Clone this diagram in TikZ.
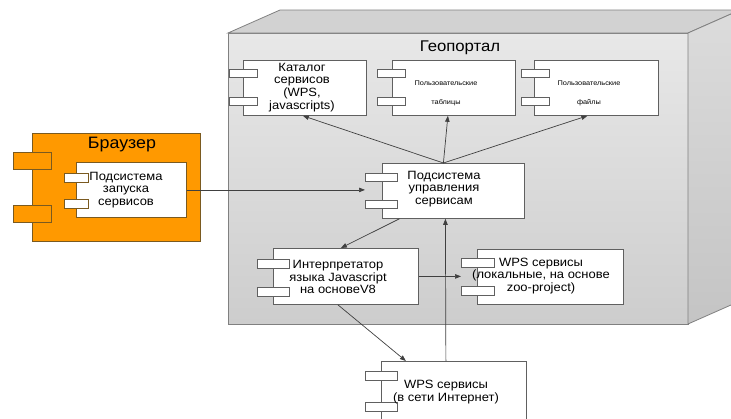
\documentclass[tikz,border=0pt]{standalone}
\usepackage{fontspec}
\setmainfont[FakeStretch=1.08]{Liberation Sans}
\usetikzlibrary{arrows.meta,calc}
\definecolor{orng}{HTML}{FF9900}
\definecolor{obrd}{HTML}{7A5A20}
\definecolor{cbrd}{HTML}{606060}
\definecolor{lnc}{HTML}{404040}
\definecolor{frontA}{HTML}{E8E8E8}
\definecolor{frontB}{HTML}{CDCDCD}
\definecolor{topc}{HTML}{D2D2D2}
\definecolor{sideA}{HTML}{DCDCDC}
\definecolor{sideB}{HTML}{C4C4C4}
\tikzset{
  comp/.style={draw=cbrd, fill=white, line width=0.8pt, inner sep=0pt, anchor=north west},
  port/.style={draw=cbrd, fill=white, line width=0.8pt, inner sep=0pt, minimum height=8.5pt, anchor=north west},
  oport/.style={draw=obrd, fill=orng, line width=0.8pt, inner sep=0pt, minimum width=38pt, minimum height=17pt, anchor=north west},
  txt/.style={align=center, inner sep=0pt, font=\fontsize{12}{12.8}\selectfont},
  tiny/.style={inner sep=0pt, font=\fontsize{6.8}{7}\selectfont},
  conn/.style={draw=lnc, line width=0.7pt, -{Triangle[length=6pt,width=4.5pt]}},
  plain/.style={draw=lnc, line width=0.7pt}
}
\begin{document}
\begin{tikzpicture}[x=1pt,y=-1pt]
\path[use as bounding box, clip] (0,0) rectangle (731,418);
% Geoportal 3D node
\shade[top color=frontA, bottom color=frontB, draw=gray, line width=0.8pt] (228,33) rectangle (688,324);
\fill[topc, draw=gray, line width=0.8pt] (228,33) -- (280,10) -- (740,10) -- (688,33) -- cycle;
\shade[top color=sideA, bottom color=sideB, draw=gray, line width=0.8pt] (688,33) -- (740,10) -- (740,301) -- (688,324) -- cycle;
\node[inner sep=0pt, font=\fontsize{15.5}{17}\selectfont] (geo) at (460,48) {Геопортал};

% Browser
\node[draw=obrd, fill=orng, line width=0.8pt, inner sep=0pt, minimum width=168pt, minimum height=108pt, anchor=north west] (br) at (32,133) {};
\node[oport] (brp1) at (13,152) {};
\node[oport] (brp2) at (13,205) {};
\node[inner sep=0pt, font=\fontsize{16.5}{18}\selectfont] (brT) at (122,145) {Браузер};
\node[comp, draw=obrd, minimum width=110pt, minimum height=55pt] (brin) at (76,162) {};
\node[port, draw=obrd, minimum width=24pt] (brinp1) at (64,173) {};
\node[port, draw=obrd, minimum width=24pt] (brinp2) at (64,199) {};
\node[txt] (brinT) at (126,190) {Подсистема\\запуска\\сервисов};

% Top components
\node[comp, minimum width=123pt, minimum height=55pt] (cat) at (243,60) {};
\node[port, minimum width=28pt] (catp1) at (229,68.5) {};
\node[port, minimum width=28pt] (catp2) at (229,96.5) {};
\node[txt] (catT) at (302,87.5) {Каталог\\сервисов\\(WPS,\\javascripts)};

\node[comp, minimum width=123pt, minimum height=55pt] (tab) at (392,60) {};
\node[port, minimum width=28pt] (tabp1) at (377,68.5) {};
\node[port, minimum width=28pt] (tabp2) at (377,96.5) {};
\node[tiny] (tabT1) at (446,83) {Пользовательские};
\node[tiny] (tabT2) at (446,103) {таблицы};

\node[comp, minimum width=124pt, minimum height=55pt] (fil) at (534,60) {};
\node[port, minimum width=28pt] (filp1) at (521,68.5) {};
\node[port, minimum width=28pt] (filp2) at (521,96.5) {};
\node[tiny] (filT1) at (589,83) {Пользовательские};
\node[tiny] (filT2) at (589,103) {файлы};

% Service management subsystem
\node[comp, minimum width=142pt, minimum height=55pt] (pod) at (382,163) {};
\node[port, minimum width=32pt] (podp1) at (365,172.5) {};
\node[port, minimum width=32pt] (podp2) at (365,199.5) {};
\node[txt] (podT) at (444,189) {Подсистема\\управления\\сервисам};

% Interpreter
\node[comp, minimum width=145pt, minimum height=56pt] (intp) at (273,248) {};
\node[port, minimum width=32pt] (intpp1) at (257,259) {};
\node[port, minimum width=32pt] (intpp2) at (257,287) {};
\node[txt] (intpT) at (338,277) {Интерпретатор\\языка Javascript\\на основеV8};

% Local WPS
\node[comp, minimum width=146pt, minimum height=55pt] (wl) at (477,249) {};
\node[port, minimum width=33pt] (wlp1) at (461,258) {};
\node[port, minimum width=33pt] (wlp2) at (461,286) {};
\node[txt] (wlT) at (541,276) {WPS сервисы\\(локальные, на основе\\zoo-project)};

% Internet WPS
\node[comp, minimum width=145pt, minimum height=70pt] (wi) at (381,361) {};
\node[port, minimum width=32pt] (wip1) at (365,371) {};
\node[port, minimum width=32pt] (wip2) at (365,402) {};
\node[txt] (wiT) at (446,392) {WPS сервисы\\(в сети Интернет)};

% Connectors
\coordinate (hub) at ($(pod.north)+(-10,0)$);
\draw[conn] (hub) -- ($(cat.south)+(-2,0)$);
\draw[conn] (hub) -- ($(tab.south)+(-6,0)$);
\draw[conn] (hub) -- ($(fil.south)+(-9,0)$);
\draw[conn] (brin.east) -- (brin.east -| podp1.west);
\draw[conn] ($(pod.south)+(-54,0)$) -- ($(intp.north)+(-5,0)$);
\draw[conn] (intp.east) -- (intp.east -| wlp1.west);
\draw[conn] ($(intp.south)+(-8,0)$) -- ($(wi.north)+(-48,0)$);
\draw[conn] ($(wi.north)+(-8,0)$) -- ($(pod.south)+(-8,0)$);
\end{tikzpicture}
\end{document}
